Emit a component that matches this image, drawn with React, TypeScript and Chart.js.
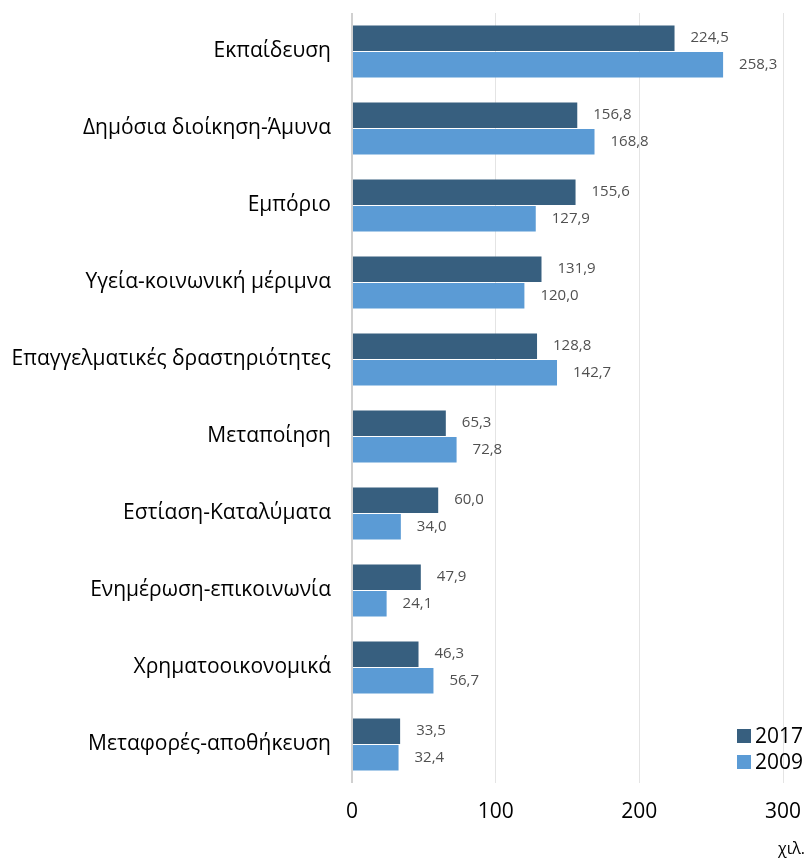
import React, { useEffect, useRef } from "react";
import { Chart, registerables } from "chart.js";

Chart.register(...registerables);

const categories = [
  "Εκπαίδευση",
  "Δημόσια διοίκηση-Άμυνα",
  "Εμπόριο",
  "Υγεία-κοινωνική μέριμνα",
  "Επαγγελματικές δραστηριότητες",
  "Μεταποίηση",
  "Εστίαση-Καταλύματα",
  "Ενημέρωση-επικοινωνία",
  "Χρηματοοικονομικά",
  "Μεταφορές-αποθήκευση",
];
const values2017 = [224.5, 156.8, 155.6, 131.9, 128.8, 65.3, 60.0, 47.9, 46.3, 33.5];
const values2009 = [258.3, 168.8, 127.9, 120.0, 142.7, 72.8, 34.0, 24.1, 56.7, 32.4];
const seriesNames = ["2017", "2009"];
const xTicks = [0, 100, 200, 300];
const unitLabel = "χιλ.";

const COLORS = ["#375F7F", "#5B9BD5"];
const FONT = "'Open Sans', sans-serif";

export default function App() {
  const ref = useRef<HTMLCanvasElement | null>(null);

  useEffect(() => {
    document.body.style.margin = "0";
    const canvas = ref.current!;
    const labelsPlugin = {
      id: "valueLabels",
      afterDatasetsDraw(chart: any) {
        const ctx = chart.ctx;
        ctx.save();
        ctx.font = `15px ${FONT}`;
        ctx.fillStyle = "#505050";
        ctx.textBaseline = "middle";
        ctx.textAlign = "left";
        chart.data.datasets.forEach((ds: any, di: number) => {
          const meta = chart.getDatasetMeta(di);
          meta.data.forEach((bar: any, i: number) => {
            const v = ds.data[i] as number;
            ctx.fillText(v.toFixed(1).replace(".", ","), bar.x + 16, bar.y);
          });
        });
        // legend
        const area = chart.chartArea;
        ctx.font = `21px ${FONT}`;
        seriesNames.forEach((name, i) => {
          const y = area.bottom - 47 + i * 26;
          ctx.fillStyle = COLORS[i];
          ctx.fillRect(area.right - 46, y - 7, 14, 14);
          ctx.fillStyle = "#000";
          ctx.fillText(name, area.right - 28, y + 1);
        });
        // unit
        ctx.font = `16px ${FONT}`;
        ctx.textAlign = "right";
        ctx.fillText(unitLabel, chart.width - 2, chart.height - 10);
        ctx.restore();
      },
    };

    const chart = new Chart(canvas, {
      type: "bar",
      data: {
        labels: categories,
        datasets: [
          { label: seriesNames[0], data: values2017, backgroundColor: COLORS[0], borderWidth: 0, barPercentage: 0.96, categoryPercentage: 0.69 },
          { label: seriesNames[1], data: values2009, backgroundColor: COLORS[1], borderWidth: 0, barPercentage: 0.96, categoryPercentage: 0.69 },
        ],
      },
      options: {
        indexAxis: "y",
        animation: false,
        responsive: false,
        devicePixelRatio: 1,
        layout: { padding: { top: 13, right: 24, left: 0, bottom: 0 } },
        plugins: { legend: { display: false }, tooltip: { enabled: false } },
        scales: {
          x: {
            min: 0,
            max: 300,
            afterBuildTicks(scale: any) {
              scale.ticks = xTicks.map((v) => ({ value: v }));
            },
            afterFit(scale: any) {
              scale.height = 76;
              scale.paddingLeft = 0;
              scale.paddingRight = 0;
            },
            grid: {
              color: (c: any) => (c.tick && c.tick.value === 0 ? "#d0d0d0" : "#e4e4e4"),
              lineWidth: (c: any) => (c.tick && c.tick.value === 0 ? 2 : 1),
              drawTicks: false,
            },
            border: { display: false },
            ticks: { color: "#000", font: { family: FONT, size: 21 }, padding: 16 },
          },
          y: {
            afterFit(scale: any) {
              scale.width = 352;
              scale.paddingTop = 0;
              scale.paddingBottom = 0;
            },
            grid: { display: false },
            border: { display: false },
            ticks: { color: "#000", font: { family: FONT, size: 21 }, padding: 13 },
          },
        },
      },
      plugins: [labelsPlugin],
    });
    return () => chart.destroy();
  }, []);

  return (
    <div style={{ width: 807, height: 859 }}>
      <canvas ref={ref} width={807} height={859} style={{ display: "block" }} />
    </div>
  );
}
